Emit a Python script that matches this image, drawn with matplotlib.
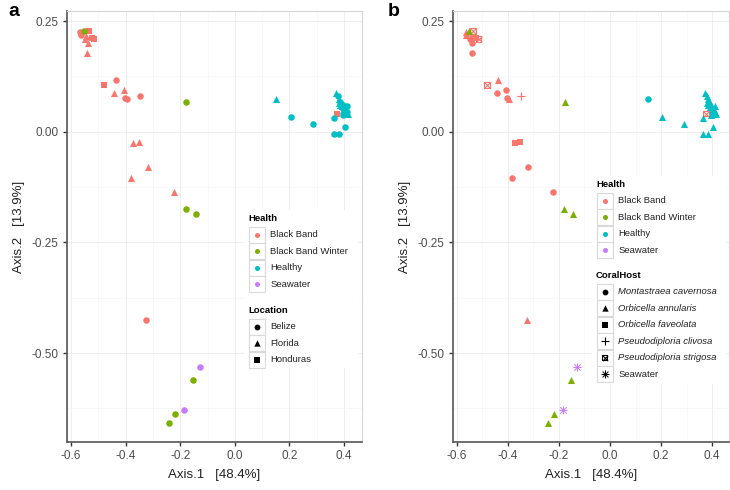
import matplotlib
matplotlib.use("Agg")
import matplotlib.pyplot as plt
from matplotlib.patches import Rectangle
from matplotlib.ticker import MultipleLocator

# PCoA coordinates, one row per sample
axis1 = [-0.566, -0.535, -0.545, -0.539, -0.515, -0.541, -0.563, -0.549, -0.525,
         -0.481, -0.437, -0.443, -0.407, -0.404, -0.394, -0.349, -0.373, -0.352,
         -0.320, -0.382, -0.222, -0.325, 0.375,
         -0.551, -0.178, -0.180, -0.144, -0.152, -0.220, -0.241,
         -0.128, -0.186,
         0.150, 0.204, 0.288, 0.365, 0.405, 0.365, 0.383,
         0.372, 0.378, 0.383, 0.387, 0.392, 0.397, 0.401, 0.405, 0.408,
         0.411, 0.414, 0.404, 0.398, 0.390, 0.385, 0.395, 0.380, 0.410]
axis2 = [0.225, 0.228, 0.215, 0.201, 0.209, 0.178, 0.219, 0.209, 0.212,
         0.105, 0.117, 0.087, 0.094, 0.075, 0.073, 0.080, -0.026, -0.023,
         -0.079, -0.105, -0.136, -0.425, 0.041,
         0.227, 0.068, -0.175, -0.187, -0.561, -0.638, -0.657,
         -0.531, -0.629,
         0.073, 0.034, 0.017, 0.031, 0.010, -0.006, -0.006,
         0.088, 0.080, 0.074, 0.068, 0.064, 0.060, 0.056, 0.052, 0.048,
         0.044, 0.040, 0.043, 0.050, 0.055, 0.060, 0.038, 0.065, 0.058]
health = ["Black Band"] * 23 + ["Black Band Winter"] * 7 + ["Seawater"] * 2 + ["Healthy"] * 25
location = ["Belize", "Honduras", "Florida", "Florida", "Honduras", "Florida", "Belize", "Florida", "Honduras",
            "Honduras", "Belize", "Florida", "Florida", "Belize", "Belize", "Belize", "Florida", "Florida",
            "Florida", "Florida", "Florida", "Belize", "Honduras",
            "Belize", "Belize", "Belize", "Belize", "Belize", "Belize", "Belize",
            "Belize", "Belize",
            "Florida", "Belize", "Belize", "Belize", "Belize", "Belize", "Belize",
            "Florida", "Belize", "Florida", "Belize", "Florida", "Belize", "Florida", "Belize", "Florida",
            "Belize", "Florida", "Belize", "Florida", "Belize", "Florida", "Belize", "Florida", "Belize"]
MC, OA, OF, PC, PS, SW = ("Montastraea cavernosa", "Orbicella annularis", "Orbicella faveolata",
                          "Pseudodiploria clivosa", "Pseudodiploria strigosa", "Seawater")
coralhost = [OA, PS, OA, MC, PS, MC, OA, MC, OF,
             PS, OA, MC, MC, MC, OA, PC, OF, OF,
             MC, MC, MC, OA, PS,
             OA, OA, OA, OA, OA, OA, OA,
             SW, SW,
             MC, OA, OA, OA, OA, OA, OA,
             OA, OA, OA, OA, OA, OA, OA, OA, OA,
             OA, OA, OA, OA, OA, OA, OA, OA, OA]

health_levels = ["Black Band", "Black Band Winter", "Healthy", "Seawater"]
location_levels = ["Belize", "Florida", "Honduras"]
host_levels = [MC, OA, OF, PC, PS, SW]

colors = {"Black Band": "#F8766D", "Black Band Winter": "#7CAE00",
          "Healthy": "#00BFC4", "Seawater": "#C77CFF"}
loc_shape = {"Belize": "o", "Florida": "^", "Honduras": "s"}
host_shape = {MC: "o", OA: "^", OF: "s", PC: "+", PS: "boxx", SW: "star"}
sizes = {"o": 22, "^": 26, "s": 18}


def draw_point(ax, x, y, shape, color, scale=1.0, zorder=3):
    if shape in ("o", "^", "s"):
        ax.scatter([x], [y], s=sizes[shape] * scale, marker=shape, color=color,
                   linewidths=0, zorder=zorder, clip_on=False)
    elif shape == "+":
        ax.scatter([x], [y], s=34 * scale, marker="+", color=color,
                   linewidths=0.8, zorder=zorder, clip_on=False)
    elif shape == "boxx":
        ax.scatter([x], [y], s=18 * scale, marker="s", facecolors="none", edgecolors=color,
                   linewidths=0.8, zorder=zorder, clip_on=False)
        ax.scatter([x], [y], s=18 * scale, marker="x", color=color,
                   linewidths=0.8, zorder=zorder, clip_on=False)
    elif shape == "star":
        ax.scatter([x], [y], s=32 * scale, marker="+", color=color,
                   linewidths=0.7, zorder=zorder, clip_on=False)
        ax.scatter([x], [y], s=22 * scale, marker="x", color=color,
                   linewidths=0.7, zorder=zorder, clip_on=False)


plt.rcParams["font.family"] = ["Liberation Sans", "DejaVu Sans"]
fig = plt.figure(figsize=(7.3, 4.9), dpi=100)
W, H = 730.0, 490.0


def make_axes(left, right, top, bottom):
    ax = fig.add_axes([left / W, 1 - bottom / H, (right - left) / W, (bottom - top) / H])
    ax.set_xlim(-0.615, 0.466)
    ax.set_ylim(-0.701, 0.2726)
    ax.xaxis.set_minor_locator(MultipleLocator(0.1))
    ax.yaxis.set_minor_locator(MultipleLocator(0.125))
    ax.set_xticks([-0.6, -0.4, -0.2, 0.0, 0.2, 0.4])
    ax.set_xticklabels(["-0.6", "-0.4", "-0.2", "0.0", "0.2", "0.4"])
    ax.set_yticks([-0.5, -0.25, 0.0, 0.25])
    ax.set_yticklabels(["-0.50", "-0.25", "0.00", "0.25"])
    ax.grid(which="major", color="#EBEBEB", lw=0.6)
    ax.grid(which="minor", color="#F4F4F4", lw=0.4)
    ax.set_axisbelow(True)
    ax.tick_params(which="minor", length=0)
    ax.tick_params(which="major", length=3, width=1, color="#333333",
                   labelsize=8.5, labelcolor="#4D4D4D", pad=3)
    for s in ("left", "bottom"):
        ax.spines[s].set_color("#555555")
        ax.spines[s].set_linewidth(1.2)
    for s in ("top", "right"):
        ax.spines[s].set_color("#D5D5D5")
        ax.spines[s].set_linewidth(0.8)
    ax.set_xlabel("Axis.1   [48.4%]", fontsize=9.5, color="#222222", labelpad=5)
    ax.set_ylabel("Axis.2   [13.9%]", fontsize=9.5, color="#222222", labelpad=5)
    return ax


ax_a = make_axes(67, 362, 11, 442)
ax_b = make_axes(453, 729, 11, 442)

for i in range(len(axis1)):
    c = colors[health[i]]
    draw_point(ax_a, axis1[i], axis2[i], loc_shape[location[i]], c)
    draw_point(ax_b, axis1[i], axis2[i], host_shape[coralhost[i]], c)

fig.text(8 / W, 1 - 12 / H, "a", fontsize=14, fontweight="bold", va="center", ha="left")
fig.text(388 / W, 1 - 12 / H, "b", fontsize=14, fontweight="bold", va="center", ha="left")

# overlay in pixel coordinates for the legends
ov = fig.add_axes([0, 0, 1, 1], zorder=10)
ov.set_xlim(0, W)
ov.set_ylim(H, 0)
ov.axis("off")
ov.patch.set_alpha(0)


def legend_block(x0, ytitle, title, labels, keyfun, italic=None):
    ov.text(x0, ytitle, title, fontsize=6.8, fontweight="bold", va="center", ha="left", zorder=12)
    ys = [ytitle + 16.5 * (k + 1) for k in range(len(labels))]
    kx = x0 + 8.5
    for k, lab in enumerate(labels):
        ov.add_patch(Rectangle((kx - 8, ys[k] - 8), 16, 16, facecolor="white",
                               edgecolor="#D9D9D9", lw=0.8, zorder=11))
        keyfun(lab, kx, ys[k])
        style = "italic" if italic and italic(lab) else "normal"
        ov.text(kx + 14, ys[k], lab, fontsize=6.8, style=style, color="#222222",
                va="center", ha="left", zorder=12)


def health_key(lab, x, y):
    ov.scatter([x], [y], s=13, marker="o", color=colors[lab], linewidths=0, zorder=12)


def loc_key(lab, x, y):
    draw_point(ov, x, y, loc_shape[lab], "black", scale=0.8, zorder=12)


def host_key(lab, x, y):
    draw_point(ov, x, y, host_shape[lab], "black", scale=0.8, zorder=12)


# white legend backgrounds
ov.add_patch(Rectangle((244, 210), 114, 158, facecolor="white", edgecolor="none", zorder=10))
ov.add_patch(Rectangle((592, 176), 134, 208, facecolor="white", edgecolor="none", zorder=10))

legend_block(248, 218, "Health", health_levels, health_key)
legend_block(248, 310, "Location", location_levels, loc_key)
legend_block(596, 184, "Health", health_levels, health_key)
legend_block(596, 275, "CoralHost", host_levels, host_key, italic=lambda s: s != "Seawater")

fig.savefig("out.png", dpi=100)
